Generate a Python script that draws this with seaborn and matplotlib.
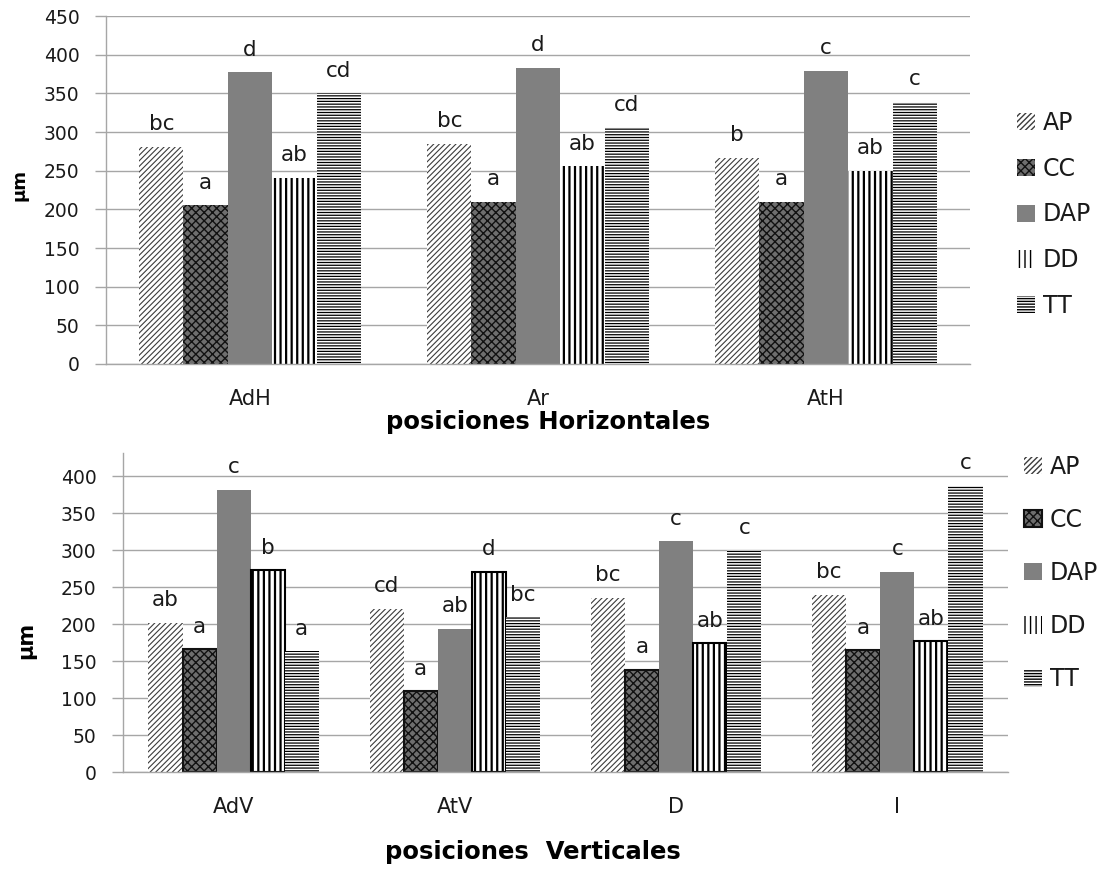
import matplotlib
matplotlib.use("Agg")
import numpy as np
import pandas as pd
import matplotlib.pyplot as plt
import seaborn as sns
from matplotlib.patches import Patch

# ---------------- data ----------------
treatments = ["AP", "CC", "DAP", "DD", "TT"]

h_positions = ["AdH", "Ar", "AtH"]
h_AP = [281, 285, 267]
h_CC = [205, 210, 210]
h_DAP = [377, 383, 379]
h_DD = [241, 256, 250]
h_TT = [350, 306, 339]
h_let_AP = ["bc", "bc", "b"]
h_let_CC = ["a", "a", "a"]
h_let_DAP = ["d", "d", "c"]
h_let_DD = ["ab", "ab", "ab"]
h_let_TT = ["cd", "cd", "c"]

v_positions = ["AdV", "AtV", "D", "I"]
v_AP = [202, 221, 236, 240]
v_CC = [166, 109, 138, 165]
v_DAP = [382, 194, 312, 271]
v_DD = [273, 271, 174, 177]
v_TT = [163, 209, 300, 387]
v_let_AP = ["ab", "cd", "bc", "bc"]
v_let_CC = ["a", "a", "a", "a"]
v_let_DAP = ["c", "ab", "c", "c"]
v_let_DD = ["b", "d", "ab", "ab"]
v_let_TT = ["a", "bc", "c", "c"]

h_title = "posiciones Horizontales"
v_title = "posiciones  Verticales"
y_title = "µm"

# ---------------- style ----------------
sns.set_theme(style="white")
plt.rcParams["font.family"] = ["DejaVu Sans"]
plt.rcParams["hatch.linewidth"] = 1.0

GRID = "#a6a6a6"
TXT = "#1a1a1a"

styles = {
    "AP": dict(face="white", hatch="//////", hc="#3c3c3c", hlw=0.8),
    "CC": dict(face="#6e6e6e", hatch="xxxx", hc="#111111", hlw=1.0),
    "DAP": dict(face="#808080", hatch=None, hc="#808080", hlw=1.0),
    "DD": dict(face="white", hatch="|||", hc="black", hlw=1.6),
    "TT": dict(face="white", hatch="------", hc="black", hlw=0.9),
}

fig = plt.figure(figsize=(11.05, 8.69), dpi=100)
W, H = 1105, 869


def make_axes(left, top, right, bottom):
    return fig.add_axes([left / W, 1 - bottom / H, (right - left) / W, (bottom - top) / H])


def set_hlw(p, lw):
    if hasattr(p, "set_hatch_linewidth"):
        p.set_hatch_linewidth(lw)


def draw(ax, positions, series, letters, ymax, yticks, bordered, tick_fs, x_fs, let_fs):
    rows = []
    for t in treatments:
        for p, v in zip(positions, series[t]):
            rows.append({"pos": p, "val": v, "trt": t})
    df = pd.DataFrame(rows)
    sns.barplot(data=df, x="pos", y="val", hue="trt", order=positions,
                hue_order=treatments, width=0.77, gap=0, saturation=1,
                palette=[styles[t]["face"] for t in treatments],
                errorbar=None, legend=False, ax=ax, zorder=2)
    for t, cont in zip(treatments, ax.containers):
        st = styles[t]
        for p in cont:
            p.set_facecolor(st["face"])
            p.set_edgecolor(st["hc"])
            p.set_hatch(st["hatch"])
            set_hlw(p, st["hlw"])
            if t in bordered:
                p.set_linewidth(1.5)
            else:
                p.set_linewidth(0)
        ax.bar_label(cont, labels=letters[t], padding=9, fontsize=let_fs, color=TXT)

    ax.set_ylim(0, ymax)
    ax.set_xlim(-0.5, len(positions) - 0.5)
    ax.set_yticks(yticks)
    ax.set_yticklabels([str(v) for v in yticks])
    ax.set_xticks(range(len(positions)))
    ax.set_xticklabels(positions)
    ax.set_xticks(np.arange(len(positions) + 1) - 0.5, minor=True)
    ax.tick_params(axis="x", which="major", length=0, pad=18, labelsize=x_fs, labelcolor=TXT)
    ax.tick_params(axis="x", which="minor", length=7, width=1, color=GRID, direction="out")
    ax.tick_params(axis="y", length=8, width=1, color=GRID, pad=11, labelsize=tick_fs,
                   labelcolor=TXT, direction="out", left=True)
    ax.grid(axis="y", color=GRID, linewidth=1, zorder=0)
    ax.grid(axis="x", visible=False)
    ax.set_axisbelow(True)
    for s in ["top", "right"]:
        ax.spines[s].set_visible(False)
    for s in ["left", "bottom"]:
        ax.spines[s].set_color(GRID)
        ax.spines[s].set_linewidth(1)
    ax.set_xlabel("")
    ax.set_ylabel("")


def legend_handles(bordered):
    hs = []
    for t in treatments:
        st = styles[t]
        p = Patch(facecolor=st["face"], edgecolor=st["hc"], hatch=st["hatch"],
                  linewidth=1.5 if t in bordered else 0, label=t)
        set_hlw(p, st["hlw"])
        hs.append(p)
    return hs


# ---------------- top chart ----------------
ax1 = make_axes(106, 16, 970, 364)
draw(ax1, h_positions,
     {"AP": h_AP, "CC": h_CC, "DAP": h_DAP, "DD": h_DD, "TT": h_TT},
     {"AP": h_let_AP, "CC": h_let_CC, "DAP": h_let_DAP, "DD": h_let_DD, "TT": h_let_TT},
     450, list(range(0, 451, 50)), bordered=[], tick_fs=13.5, x_fs=15, let_fs=15.5)
fig.text(548 / W, 1 - 422 / H, h_title, ha="center", va="center", fontsize=17.5,
         fontweight="bold", color="black")
fig.text(20 / W, 1 - 185 / H, y_title, rotation=90, ha="center", va="center",
         fontsize=13, fontweight="bold", color="black")
fig.legend(handles=legend_handles([]), loc="upper left",
           bbox_to_anchor=(1017 / W, 1 - 111 / H), frameon=False, fontsize=17,
           handlelength=0.75, handleheight=0.75, handletextpad=0.35,
           labelspacing=0.92, borderpad=0, borderaxespad=0, labelcolor=TXT)

# ---------------- bottom chart ----------------
ax2 = make_axes(123, 453, 1008, 772)
draw(ax2, v_positions,
     {"AP": v_AP, "CC": v_CC, "DAP": v_DAP, "DD": v_DD, "TT": v_TT},
     {"AP": v_let_AP, "CC": v_let_CC, "DAP": v_let_DAP, "DD": v_let_DD, "TT": v_let_TT},
     431.5, list(range(0, 401, 50)), bordered=["CC", "DD"], tick_fs=13.5, x_fs=15, let_fs=15.5)
fig.text(533 / W, 1 - 852 / H, v_title, ha="center", va="center", fontsize=17.5,
         fontweight="bold", color="black")
fig.text(26 / W, 1 - 640 / H, y_title, rotation=90, ha="center", va="center",
         fontsize=15, fontweight="bold", color="black")
fig.legend(handles=legend_handles(["CC"]), loc="upper left",
           bbox_to_anchor=(1024 / W, 1 - 455 / H), frameon=False, fontsize=17,
           handlelength=0.75, handleheight=0.75, handletextpad=0.35,
           labelspacing=1.23, borderpad=0, borderaxespad=0, labelcolor=TXT)

fig.savefig("out.png", dpi=100)
